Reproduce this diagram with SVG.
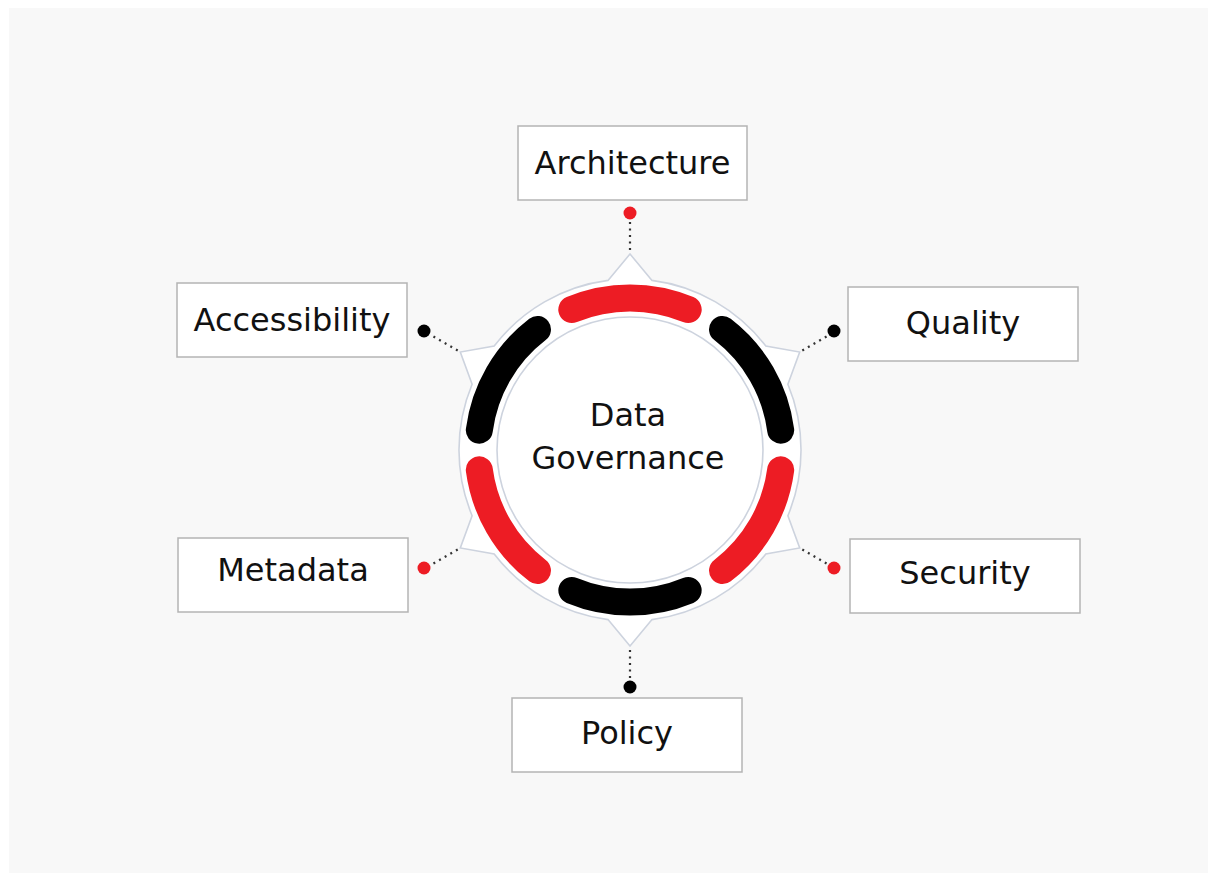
<svg xmlns="http://www.w3.org/2000/svg" width="1217" height="881" viewBox="0 0 1217 881">
<style>
.box{fill:#fff;stroke:#b4b4b4;stroke-width:1.5}
.lbl{font-family:"DejaVu Sans","Verdana",sans-serif;font-size:32px;fill:#111;text-anchor:middle}
.ring{fill:none;stroke:#cdd3de;stroke-width:1.6}
.seg{fill:none;stroke-width:27;stroke-linecap:round}
.red{stroke:#ed1c24}
.blk{stroke:#000}
.dot-r{fill:#ed1c24}
.dot-b{fill:#000}
.dash{stroke:#333;stroke-width:2.2;stroke-dasharray:2 4.5;fill:none}
</style>
<rect width="1217" height="881" fill="#ffffff"/>
<rect x="9" y="8" width="1199" height="865" fill="#f8f8f8"/>

<g id="hub">
<path d="M 608.0 280.4 L 630 254 L 652.0 280.4 A 171 171 0 0 1 765.8 346.1 L 799.7 352 L 787.9 384.3 A 171 171 0 0 1 787.9 515.7 L 799.7 548 L 765.8 553.9 A 171 171 0 0 1 652.0 619.6 L 630 646 L 608.0 619.6 A 171 171 0 0 1 494.2 553.9 L 460.3 548 L 472.1 515.7 A 171 171 0 0 1 472.1 384.3 L 460.3 352 L 494.2 346.1 A 171 171 0 0 1 608.0 280.4 Z" fill="#fff" stroke="#cdd3de" stroke-width="1.6"/>
<circle cx="630" cy="450" r="133" fill="#fff" class="ring"/>
<path class="seg red" d="M 571.83 309.57 A 152 152 0 0 1 688.17 309.57"/>
<path class="seg blk" d="M 722.53 329.41 A 152 152 0 0 1 780.70 430.16"/>
<path class="seg red" d="M 780.70 469.84 A 152 152 0 0 1 722.53 570.59"/>
<path class="seg blk" d="M 688.17 590.43 A 152 152 0 0 1 571.83 590.43"/>
<path class="seg red" d="M 537.47 570.59 A 152 152 0 0 1 479.30 469.84"/>
<path class="seg blk" d="M 479.30 430.16 A 152 152 0 0 1 537.47 329.41"/>
<text class="lbl" x="628" y="426">Data</text>
<text class="lbl" x="628" y="469">Governance</text>
</g>

<g id="connectors">
<line class="dash" x1="630" y1="250" x2="630" y2="221"/>
<line class="dash" x1="802.3" y1="350.5" x2="827.4" y2="336"/>
<line class="dash" x1="802.3" y1="549.5" x2="827.4" y2="564"/>
<line class="dash" x1="630" y1="650" x2="630" y2="679"/>
<line class="dash" x1="457.7" y1="549.5" x2="432.6" y2="564"/>
<line class="dash" x1="457.7" y1="350.5" x2="432.6" y2="336"/>
<circle class="dot-r" cx="630" cy="213" r="6.5"/>
<circle class="dot-b" cx="834" cy="331" r="6.5"/>
<circle class="dot-r" cx="834" cy="568" r="6.5"/>
<circle class="dot-b" cx="630" cy="687" r="6.5"/>
<circle class="dot-r" cx="424" cy="568" r="6.5"/>
<circle class="dot-b" cx="424" cy="331" r="6.5"/>
</g>

<g id="architecture">
<rect class="box" x="518" y="126" width="229" height="74"/>
<text class="lbl" x="632.5" y="174">Architecture</text>
</g>
<g id="accessibility">
<rect class="box" x="177" y="283" width="230" height="74"/>
<text class="lbl" x="292" y="331">Accessibility</text>
</g>
<g id="quality">
<rect class="box" x="848" y="287" width="230" height="74"/>
<text class="lbl" x="963" y="334">Quality</text>
</g>
<g id="metadata">
<rect class="box" x="178" y="538" width="230" height="74"/>
<text class="lbl" x="293" y="581">Metadata</text>
</g>
<g id="security">
<rect class="box" x="850" y="539" width="230" height="74"/>
<text class="lbl" x="965" y="584">Security</text>
</g>
<g id="policy">
<rect class="box" x="512" y="698" width="230" height="74"/>
<text class="lbl" x="627" y="744">Policy</text>
</g>
</svg>
